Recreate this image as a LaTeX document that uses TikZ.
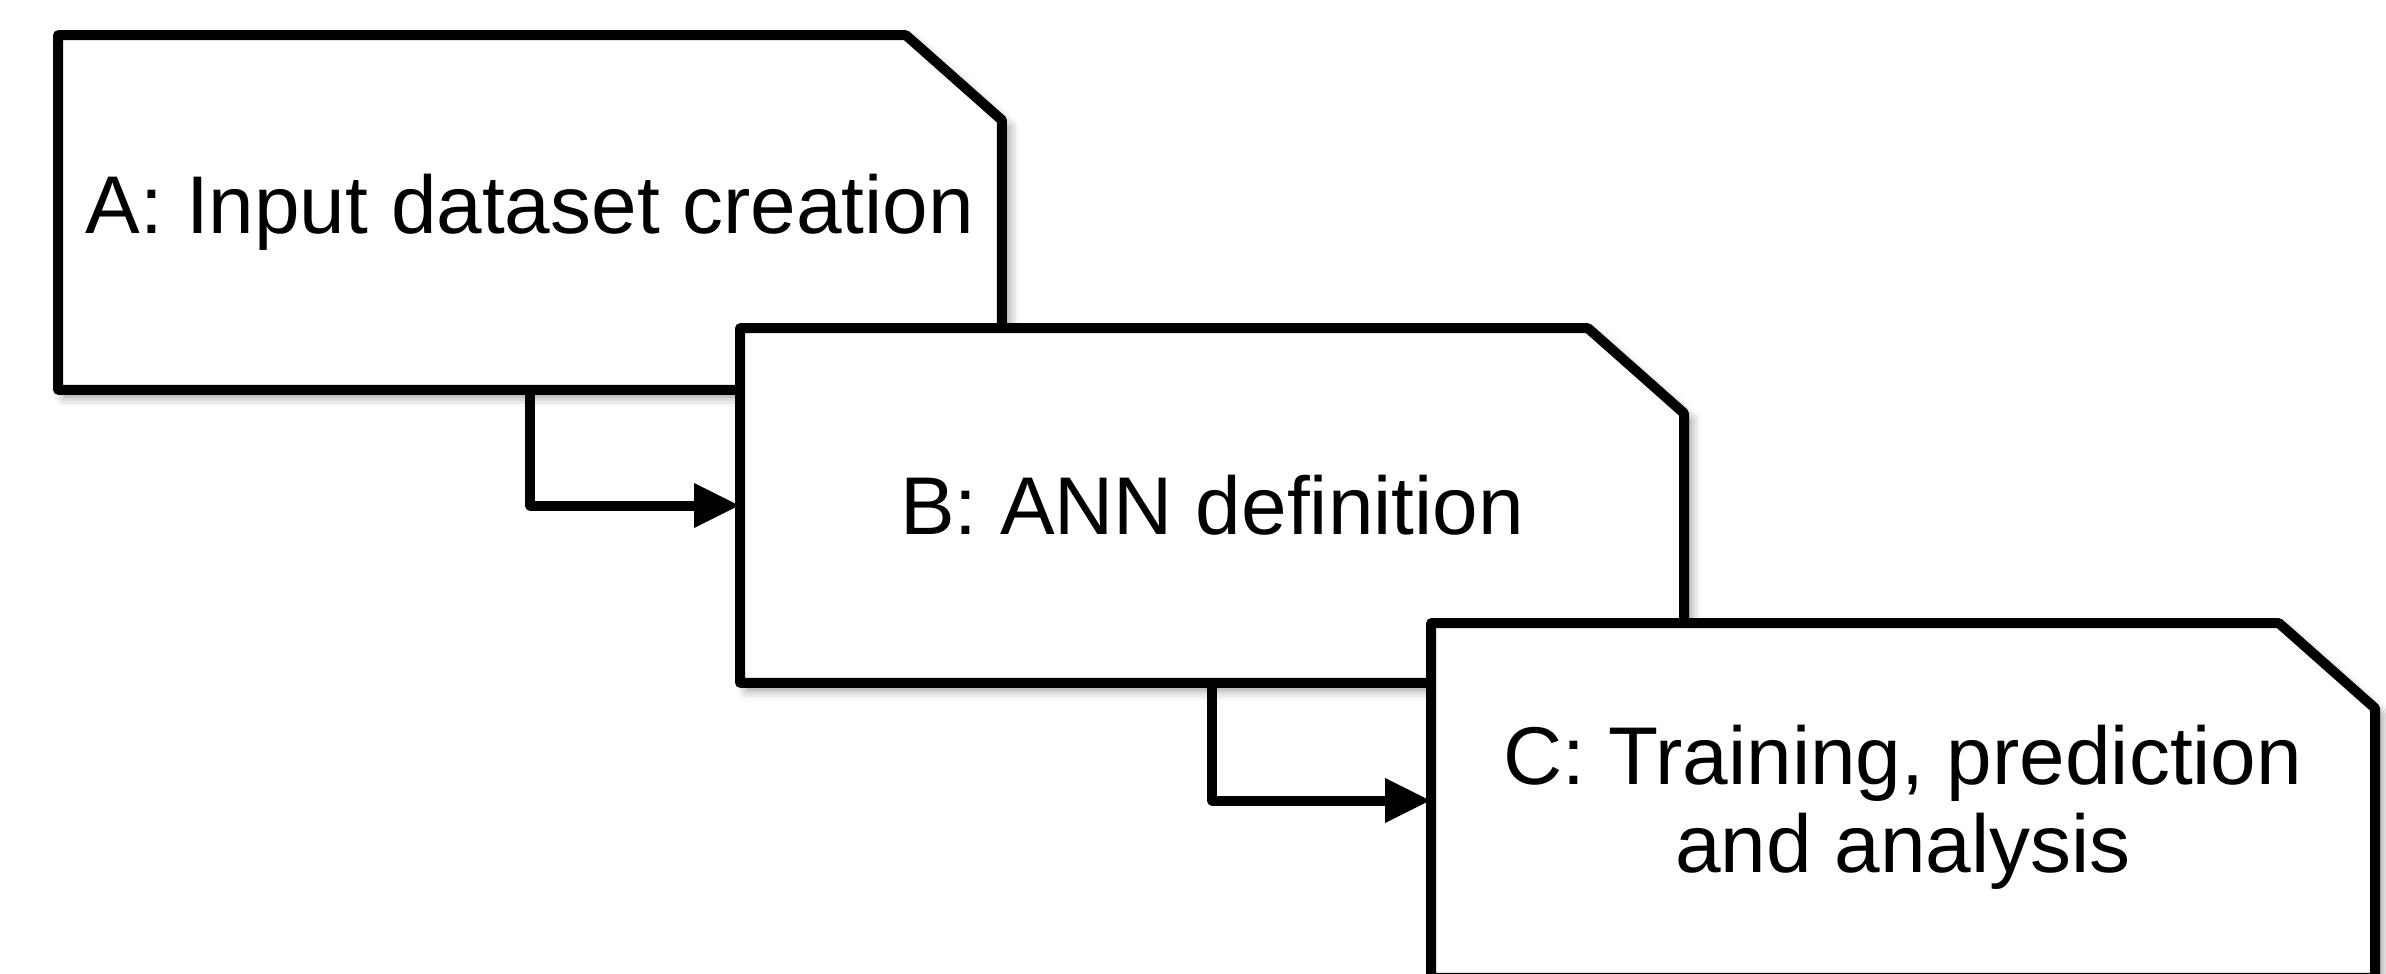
\documentclass[tikz,border=0pt]{standalone}
\usepackage{fontspec}
\setmainfont{Liberation Sans}
\usetikzlibrary{arrows.meta,shadows.blur}
\tikzset{
  stagebox/.style={minimum width=9.42cm, minimum height=3.53cm, inner sep=0pt, align=center,
    font=\fontsize{23.3}{25}\selectfont},
  outline/.style={draw=black, fill=white, line width=0.1cm, line join=round,
    blur shadow={shadow xshift=0.07cm, shadow yshift=-0.07cm, shadow blur radius=0.1cm, shadow opacity=45}},
  arr/.style={draw=black, line width=0.1cm, line join=round,
    -{Triangle[length=0.46cm,width=0.42cm]}},
}
\newcommand{\cutbox}[1]{%
  \path[outline] (#1.south west) -- (#1.north west) -- ([xshift=-0.96cm]#1.north east)
    -- ([yshift=-0.85cm]#1.north east) -- (#1.south east) -- cycle;}
\begin{document}
\begin{tikzpicture}[x=0.01cm, y=-0.01cm]
\useasboundingbox (0,0) rectangle (2386,973);
\clip (0,0) rectangle (2386,973);
% A
\node[stagebox] (A) at (530,212.5) {};
\cutbox{A}
\node[stagebox] (At) at (A.center) {A: Input dataset creation};
% B
\node[stagebox] (B) at (1212,505.5) {};
\draw[arr] (A.south) |- (B.west);
\cutbox{B}
\node[stagebox] (Bt) at (B.center) {B: ANN definition};
% C
\node[stagebox] (C) at (1903,800.5) {};
\draw[arr] (B.south) |- (C.west);
\cutbox{C}
\node[stagebox] (Ct) at ([yshift=-0.07cm]C.center) {C: Training, prediction\\and analysis};
\end{tikzpicture}
\end{document}
